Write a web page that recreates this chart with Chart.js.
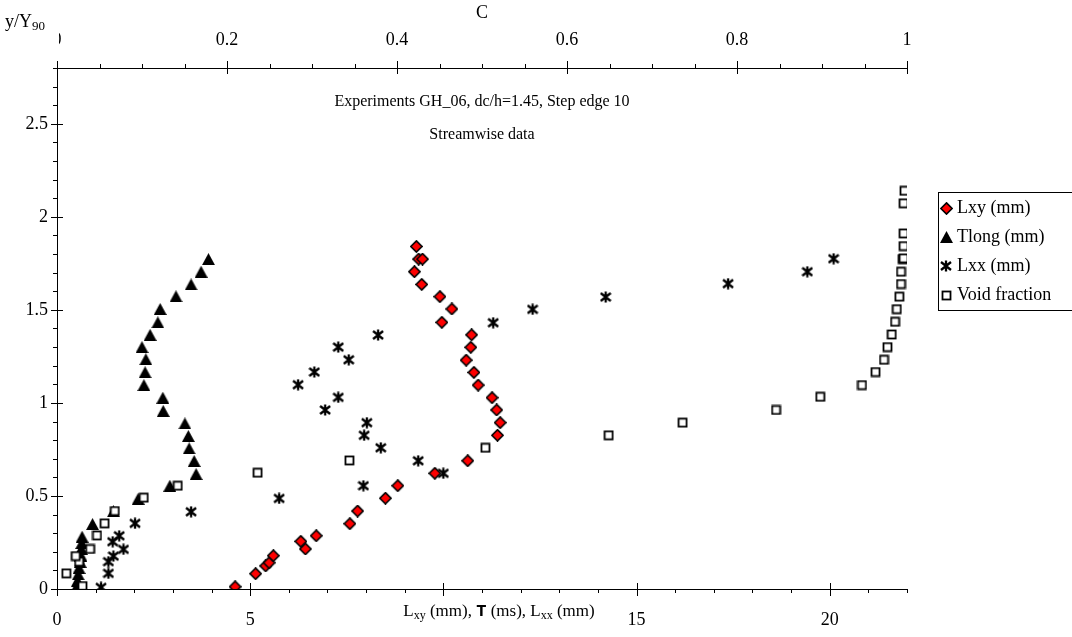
<!DOCTYPE html>
<html>
<head>
<meta charset="utf-8">
<title>Experiments GH_06 - streamwise data</title>
<script src="https://cdn.jsdelivr.net/npm/chart.js@4.4.1/dist/chart.umd.min.js"></script>
<style>
  html, body { margin: 0; padding: 0; background: #ffffff; }
  #wrap { position: relative; width: 1072px; height: 637px; }
</style>
</head>
<body>
<div id="wrap"><canvas id="chart" width="1072" height="637"></canvas></div>
<script>
// ---- Streamwise data, experiment GH_06 (dc/h = 1.45, step edge 10) ----
// Lxy (mm) against y/Y90
const lxyDepth = [0.012, 0.082, 0.124, 0.141, 0.179, 0.215, 0.256, 0.286, 0.351, 0.419, 0.488, 0.555, 0.622, 0.689, 0.826, 0.894, 0.962, 1.028, 1.096, 1.164, 1.230, 1.299, 1.366, 1.433, 1.505, 1.571, 1.637, 1.705, 1.773, 1.773, 1.841];
const lxyMm    = [4.61, 5.14, 5.40, 5.49, 5.60, 6.43, 6.31, 6.71, 7.58, 7.78, 8.50, 8.82, 9.78, 10.63, 11.40, 11.47, 11.38, 11.26, 10.90, 10.79, 10.59, 10.71, 10.73, 9.96, 10.22, 9.91, 9.44, 9.25, 9.36, 9.46, 9.30];

// Tlong against y/Y90
const tlongDepth = [0.009, 0.045, 0.079, 0.113, 0.146, 0.180, 0.215, 0.247, 0.281, 0.349, 0.418, 0.485, 0.555, 0.618, 0.688, 0.756, 0.822, 0.890, 0.957, 1.028, 1.096, 1.165, 1.235, 1.300, 1.366, 1.433, 1.505, 1.573, 1.637, 1.705, 1.773];
const tlongVal   = [0.50, 0.53, 0.55, 0.57, 0.60, 0.62, 0.63, 0.64, 0.65, 0.92, 1.46, 2.10, 2.92, 3.60, 3.55, 3.42, 3.40, 3.31, 2.75, 2.74, 2.25, 2.28, 2.30, 2.20, 2.41, 2.61, 2.67, 3.08, 3.47, 3.73, 3.92];

// Lxx (mm) against y/Y90
const lxxDepth = [0.009, 0.084, 0.147, 0.177, 0.213, 0.254, 0.286, 0.353, 0.415, 0.487, 0.555, 0.622, 0.689, 0.759, 0.826, 0.894, 0.962, 1.030, 1.098, 1.166, 1.232, 1.300, 1.365, 1.431, 1.503, 1.569, 1.641, 1.705, 1.775];
const lxxMm    = [1.14, 1.33, 1.33, 1.46, 1.72, 1.44, 1.61, 2.02, 3.47, 5.75, 7.93, 10.00, 9.35, 8.38, 7.95, 8.02, 6.94, 7.28, 6.24, 6.66, 7.55, 7.28, 8.31, 11.29, 12.31, 14.20, 17.37, 19.42, 20.10];

// Void fraction C (top axis) against y/Y90
const voidDepth = [0.016, 0.084, 0.147, 0.177, 0.215, 0.288, 0.353, 0.419, 0.491, 0.555, 0.625, 0.691, 0.759, 0.826, 0.894, 0.962, 1.033, 1.096, 1.166, 1.232, 1.300, 1.368, 1.436, 1.504, 1.571, 1.639, 1.705, 1.773, 1.777, 1.843, 1.911, 2.073, 2.140];
const voidC     = [0.030, 0.011, 0.026, 0.022, 0.039, 0.047, 0.056, 0.068, 0.102, 0.142, 0.236, 0.344, 0.504, 0.649, 0.736, 0.846, 0.898, 0.947, 0.963, 0.973, 0.977, 0.982, 0.986, 0.988, 0.991, 0.993, 0.993, 0.995, 0.996, 0.996, 0.996, 0.996, 0.997];

// Series names
const seriesNames = ['Lxy (mm)', 'Tlong (mm)', 'Lxx (mm)', 'Void fraction'];

// Tick labels
const bottomTickLabels = [0, 5, 15, 20];
const topTickLabels    = [0, 0.2, 0.4, 0.6, 0.8, 1];
const leftTickLabels   = [0, 0.5, 1, 1.5, 2, 2.5];

// Headings
const titleLines = ['Experiments GH_06, dc/h=1.45, Step edge 10', 'Streamwise data'];

// ---- helpers ----
const SERIF = '"Liberation Serif", "Times New Roman", serif';
const pairs = (xs, ys) => xs.map((x, i) => ({ x: x, y: ys[i] }));

function makeMarker(w, h, draw) {
  const c = document.createElement('canvas');
  c.width = w; c.height = h;
  const g = c.getContext('2d');
  draw(g);
  return c;
}

const diamondMark = makeMarker(13, 13, g => {
  g.beginPath();
  g.moveTo(6.5, 0.9); g.lineTo(12.1, 6.5); g.lineTo(6.5, 12.1); g.lineTo(0.9, 6.5); g.closePath();
  g.fillStyle = '#ff0000'; g.fill();
  g.lineWidth = 1.6; g.strokeStyle = '#000'; g.stroke();
});
const triangleMark = makeMarker(13, 12, g => {
  g.beginPath();
  g.moveTo(6.5, 0); g.lineTo(13, 12); g.lineTo(0, 12); g.closePath();
  g.fillStyle = '#000'; g.fill();
});
const asteriskMark = makeMarker(12, 12, g => {
  g.strokeStyle = '#000'; g.lineWidth = 2.3; g.lineCap = 'butt';
  g.beginPath();
  g.moveTo(6, 0.5); g.lineTo(6, 11.5);
  g.moveTo(1, 2); g.lineTo(11, 10);
  g.moveTo(1, 10); g.lineTo(11, 2);
  g.stroke();
});
const squareMark = makeMarker(11, 11, g => {
  g.fillStyle = '#fff'; g.fillRect(1, 1, 9, 9);
  g.strokeStyle = '#000'; g.lineWidth = 1.8; g.strokeRect(1.5, 1.5, 8, 8);
});
const markers = [diamondMark, triangleMark, asteriskMark, squareMark];

// Draws a row of text runs (normal / subscript) starting at x on a baseline
function runsWidth(ctx, runs) {
  let w = 0;
  runs.forEach(r => { ctx.font = r.font; w += ctx.measureText(r.text).width; });
  return w;
}
function drawRuns(ctx, runs, x, y) {
  ctx.textBaseline = 'alphabetic';
  ctx.textAlign = 'left';
  runs.forEach(r => {
    ctx.font = r.font;
    ctx.fillText(r.text, x, y + (r.dy || 0));
    x += ctx.measureText(r.text).width;
  });
}

const isMultiple = (v, step) => Math.abs(v / step - Math.round(v / step)) < 1e-6;

// Tick marks: major ticks cross the axis line, minor ticks point outward
const axisDecor = {
  id: 'axisDecor',
  afterDraw(chart) {
    const { ctx, chartArea: a, scales } = chart;
    ctx.save();
    ctx.strokeStyle = '#000';
    ctx.lineWidth = 1;
    const seg = (x1, y1, x2, y2) => { ctx.beginPath(); ctx.moveTo(x1, y1); ctx.lineTo(x2, y2); ctx.stroke(); };

    // bottom axis, minor step 1, major step 5
    for (let i = 0; i <= 22; i++) {
      const px = Math.round(scales.x.getPixelForValue(i)) + 0.5;
      if (i % 5 === 0) seg(px, a.bottom - 6, px, a.bottom + 7);
      else seg(px, a.bottom, px, a.bottom + 4);
    }
    // top axis, minor step 0.05, major step 0.2
    for (let i = 0; i <= 20; i++) {
      const v = i * 0.05;
      const px = Math.round(scales.x2.getPixelForValue(v)) + 0.5;
      if (isMultiple(v, 0.2)) seg(px, a.top - 7, px, a.top + 6);
      else seg(px, a.top - 4, px, a.top);
    }
    // left axis, minor step 0.1, major step 0.5
    for (let i = 0; i <= 28; i++) {
      const v = i * 0.1;
      const py = Math.round(scales.y.getPixelForValue(v)) + 0.5;
      if (isMultiple(v, 0.5)) seg(a.left - 6, py, a.left + 6, py);
      else seg(a.left - 4, py, a.left, py);
    }

    ctx.fillStyle = '#000';
    const cx = (a.left + a.right) / 2;

    // headings inside the plot
    ctx.font = '16px ' + SERIF;
    ctx.textAlign = 'center';
    ctx.textBaseline = 'middle';
    ctx.fillText(titleLines[0], cx, 102);
    ctx.fillText(titleLines[1], cx, 135);

    // top axis title
    ctx.font = '18px ' + SERIF;
    ctx.fillText('C', cx, 13);

    // left axis title y/Y90 (on a white box)
    ctx.fillStyle = '#fff';
    ctx.fillRect(0, 22, 59, 28);
    ctx.fillStyle = '#000';
    drawRuns(ctx, [
      { text: 'y/Y', font: '18px ' + SERIF },
      { text: '90', font: '13px ' + SERIF, dy: 3 }
    ], 5, 27);

    // bottom axis title
    const big = '17px ' + SERIF, small = '12px ' + SERIF;
    const xRuns = [
      { text: 'L', font: big },
      { text: 'xy', font: small, dy: 3 },
      { text: ' (mm), ', font: big },
      { text: 'T', font: 'bold 17px "Liberation Mono", "DejaVu Sans Mono", monospace' },
      { text: ' (ms), L', font: big },
      { text: 'xx', font: small, dy: 3 },
      { text: ' (mm)', font: big }
    ];
    const w = runsWidth(ctx, xRuns);
    drawRuns(ctx, xRuns, 499 - w / 2, 616);

    // legend
    const lx = 938.5, ly = 192.5, lw = 134, lh = 118;
    ctx.fillStyle = '#fff';
    ctx.fillRect(lx, ly, lw, lh);
    ctx.strokeStyle = '#000';
    ctx.lineWidth = 1;
    ctx.strokeRect(lx, ly, lw, lh);
    ctx.fillStyle = '#000';
    ctx.font = '18px ' + SERIF;
    ctx.textAlign = 'left';
    ctx.textBaseline = 'middle';
    seriesNames.forEach((name, i) => {
      const ry = 208 + i * 29;
      const m = markers[i];
      ctx.drawImage(m, Math.round(946 - m.width / 2), Math.round(ry - m.height / 2));
      ctx.fillText(name, 957, ry);
    });
    ctx.restore();
  }
};

const tickFont = { family: SERIF, size: 18 };

new Chart(document.getElementById('chart'), {
  type: 'scatter',
  data: {
    datasets: [
      { label: seriesNames[0], data: pairs(lxyMm, lxyDepth), xAxisID: 'x', yAxisID: 'y',
        pointStyle: diamondMark, pointRadius: 6, order: 4 },
      { label: seriesNames[1], data: pairs(tlongVal, tlongDepth), xAxisID: 'x', yAxisID: 'y',
        pointStyle: triangleMark, pointRadius: 6, order: 3 },
      { label: seriesNames[2], data: pairs(lxxMm, lxxDepth), xAxisID: 'x', yAxisID: 'y',
        pointStyle: asteriskMark, pointRadius: 6, order: 2 },
      { label: seriesNames[3], data: pairs(voidC, voidDepth), xAxisID: 'x2', yAxisID: 'y',
        pointStyle: squareMark, pointRadius: 6, order: 1 }
    ]
  },
  options: {
    responsive: false,
    animation: false,
    devicePixelRatio: 1,
    layout: { padding: { left: 0, top: 0, right: 165, bottom: 0 } },
    plugins: { legend: { display: false }, tooltip: { enabled: false } },
    scales: {
      x: {
        type: 'linear', position: 'bottom', min: 0, max: 22,
        afterBuildTicks: s => { s.ticks = bottomTickLabels.map(v => ({ value: v })); },
        afterFit: s => { s.height = 48; },
        ticks: { font: tickFont, color: '#000', padding: 20, autoSkip: false, maxRotation: 0,
                 callback: v => String(v) },
        grid: { display: false, drawTicks: false },
        border: { display: true, color: '#000', width: 1 }
      },
      x2: {
        type: 'linear', position: 'top', min: 0, max: 1,
        afterBuildTicks: s => { s.ticks = topTickLabels.map(v => ({ value: v })); },
        afterFit: s => { s.height = 68; },
        ticks: { font: tickFont, color: '#000', padding: 17, autoSkip: false, maxRotation: 0,
                 callback: v => String(v) },
        grid: { display: false, drawTicks: false },
        border: { display: true, color: '#000', width: 1 }
      },
      y: {
        type: 'linear', position: 'left', min: 0, max: 2.8,
        afterBuildTicks: s => { s.ticks = leftTickLabels.map(v => ({ value: v })); },
        afterFit: s => { s.width = 57; },
        ticks: { font: tickFont, color: '#000', padding: 9, autoSkip: false,
                 callback: v => String(v) },
        grid: { display: false, drawTicks: false },
        border: { display: true, color: '#000', width: 1 }
      }
    }
  },
  plugins: [axisDecor]
});
</script>
</body>
</html>
